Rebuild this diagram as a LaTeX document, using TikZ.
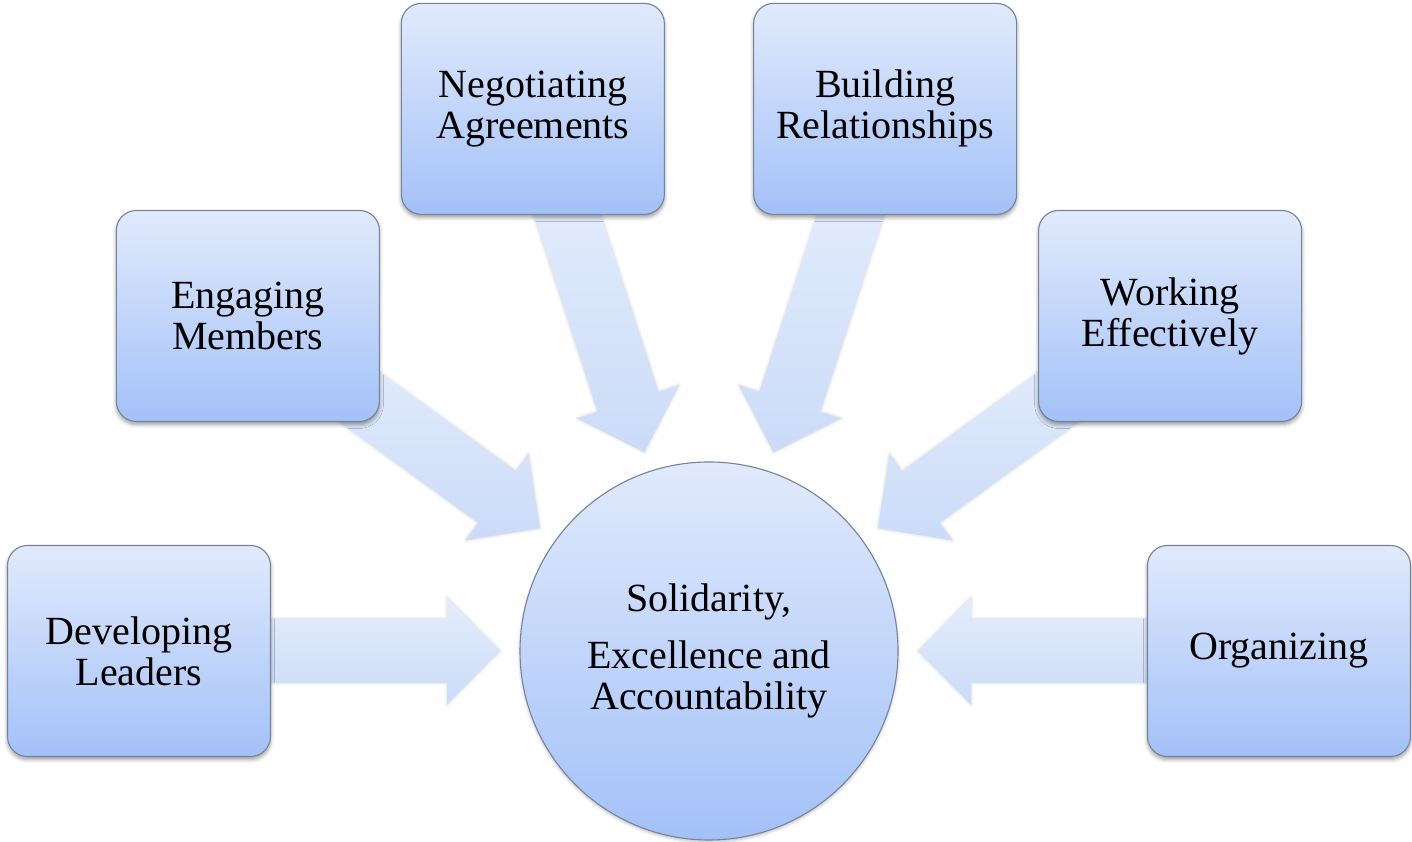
\documentclass[tikz,border=0pt]{standalone}
\usepackage{fontspec}
\setmainfont{Liberation Serif}
\usetikzlibrary{calc,shadows.blur}
\definecolor{boxtop}{HTML}{E1EAFC}
\definecolor{boxbot}{HTML}{A3C1F8}
\definecolor{boxline}{HTML}{76849A}
\definecolor{arrtop}{HTML}{E4EDFC}
\definecolor{arrbot}{HTML}{CBDBF8}
\pgfdeclarelayer{back}
\pgfsetlayers{back,main}
\begin{document}
\begin{tikzpicture}[x=1pt,y=1pt,
  label text/.style={font=\fontsize{40}{41}\selectfont, align=center},
  item/.style={label text, draw=boxline, line width=1.1pt, rounded corners=20pt,
    minimum width=263pt, minimum height=211pt, inner sep=0pt,
    top color=boxtop, bottom color=boxbot,
    blur shadow={shadow xshift=0pt, shadow yshift=-3pt, shadow blur radius=4pt, shadow opacity=40}},
  hub/.style={label text, circle, draw=boxline, line width=1.1pt, minimum size=378pt, inner sep=0pt,
    top color=boxtop, bottom color=boxbot,
    blur shadow={shadow xshift=0pt, shadow yshift=-2pt, shadow blur radius=3pt, shadow opacity=25}},
  blockarrow/.style={top color=arrtop, bottom color=arrbot,
    blur shadow={shadow xshift=0pt, shadow yshift=0pt, shadow blur radius=3pt, shadow opacity=18}}
]
\useasboundingbox (0,0) rectangle (1412,842);
\node[hub] (c) at (709,191) {Solidarity,\\[16pt]Excellence and\\Accountability};
\node[item] (dl) at ($(c)+(180:570)$) {Developing\\Leaders};
\node[item] (em) at ($(c)+(144:570)$) {Engaging\\Members};
\node[item] (na) at ($(c)+(108:570)$) {Negotiating\\Agreements};
\node[item] (br) at ($(c)+(72:570)$) {Building\\Relationships};
\node[item] (we) at ($(c)+(36:570)$) {Working\\Effectively};
\node[item] (or) at ($(c)+(0:570)$) {Organizing};
\begin{pgfonlayer}{back}
\foreach \n/\a in {dl/180,em/144,na/108,br/72,we/36,or/0} {
  \begin{scope}[shift={(c.center)}, rotate=\a]
    \path[blockarrow] (209,0) -- (262,53.5) -- (262,32) -- (490,32)
      -- (490,-32) -- (262,-32) -- (262,-53.5) -- cycle;
  \end{scope}
}
\end{pgfonlayer}
\end{tikzpicture}
\end{document}
